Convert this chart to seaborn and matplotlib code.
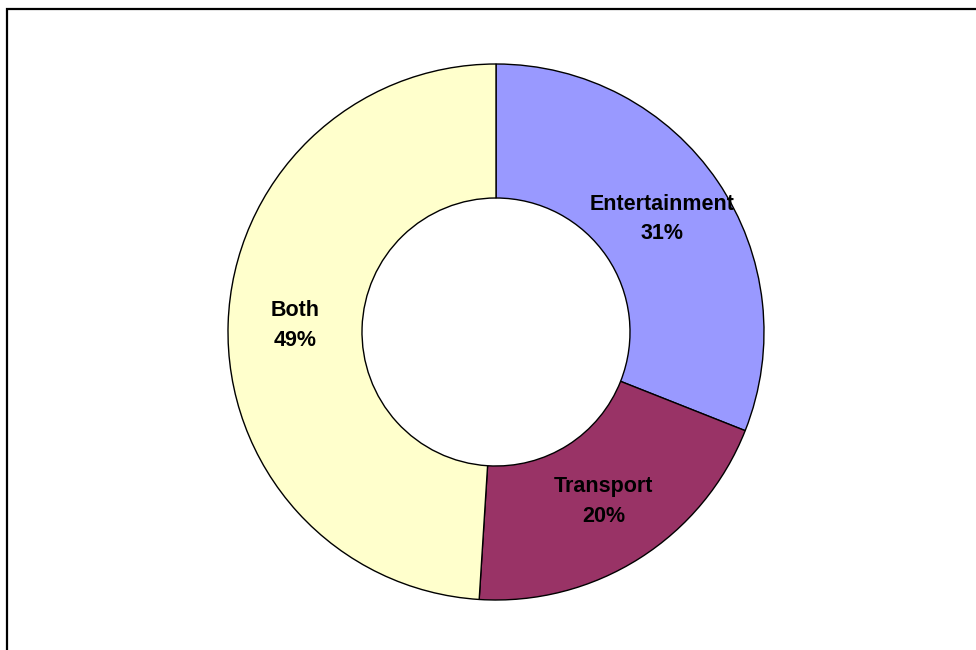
import matplotlib
matplotlib.use("Agg")
import numpy as np
import matplotlib.pyplot as plt
import seaborn as sns

# data
categories = ["Entertainment", "Transport", "Both"]
shares = [31, 20, 49]
colors = ["#9999FF", "#993366", "#FFFFCC"]

sns.set_theme(style="white")
plt.rcParams['font.family'] = ['Liberation Sans', 'DejaVu Sans']

fig = plt.figure(figsize=(9.76, 6.5), dpi=100)

# outer frame (right and bottom edges fall outside the image)
fig.patches.append(plt.Rectangle((7 / 976, -0.1), 1.2, 1 - 8.5 / 650 + 0.1,
                                 transform=fig.transFigure, fill=False,
                                 edgecolor="black", linewidth=1.6))

ax = fig.add_axes([228 / 976, 50 / 650, 536 / 976, 536 / 650])

wedges = ax.pie(shares, colors=colors, startangle=90, counterclock=False,
                radius=1,
                wedgeprops=dict(width=0.5, edgecolor="black", linewidth=1))[0]

# labels at the middle of the ring
for w, cat, val in zip(wedges, categories, shares):
    ang = np.deg2rad((w.theta1 + w.theta2) / 2)
    ax.text(0.75 * np.cos(ang), 0.75 * np.sin(ang), f"{cat}\n{val}%",
            ha="center", va="center", fontsize=15.5, fontweight="bold",
            linespacing=1.55, color="black")

ax.set_xlim(-1, 1)
ax.set_ylim(-1, 1)
ax.set_aspect("equal")
ax.axis("off")

fig.savefig("out.png", dpi=100)
